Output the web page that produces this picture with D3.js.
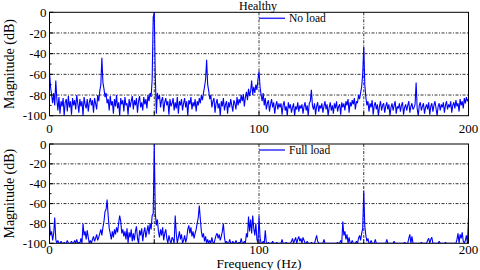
<!DOCTYPE html>
<html>
<head>
<meta charset="utf-8">
<script src="https://cdn.jsdelivr.net/npm/d3@7/dist/d3.min.js"></script>
<style>
  html, body { margin: 0; padding: 0; background: #fff; }
  svg { display: block; }
  .tick-label { font-family: "Liberation Serif", "Times New Roman", serif; font-size: 13px; fill: #000; }
  .axis-title { font-family: "Liberation Serif", "Times New Roman", serif; font-size: 14px; fill: #000; }
  .legend-text { font-family: "Liberation Serif", "Times New Roman", serif; font-size: 11.5px; fill: #000; }
</style>
</head>
<body>
<svg id="chart" width="480" height="270"></svg>
<script>
(function() {
  'use strict';

  // Spectrum sampled every 0.5 Hz from 0 to 200 Hz (401 values each)
  const freqStep = 0.5;
  const xTicks = [0, 100, 200];
  const xGrid = [50, 100, 150];
  const yTicks = [0, -20, -40, -60, -80, -100];
  const yGrid = [-20, -40, -60, -80];

  const noLoad = [
    -58,-72,-80,-88,-78,-90,-66,-84,-95,-82,-98,-86,-91,-83,-100,-87,-84,-96,-81,-92,
    -86,-99,-83,-90,-85,-94,-80,-88,-97,-84,-91,-86,-100,-82,-89,-93,-84,-96,-87,-83,
    -90,-85,-97,-83,-88,-94,-80,-86,-76,-70,-44,-68,-74,-82,-78,-88,-84,-95,-81,-90,
    -86,-98,-84,-91,-80,-93,-87,-100,-83,-89,-85,-96,-82,-90,-88,-99,-84,-92,-86,-81,
    -94,-85,-90,-83,-97,-86,-81,-92,-87,-95,-82,-89,-84,-93,-80,-86,-78,-82,-65,-5,
    0,-62,-98,-78,-84,-80,-92,-85,-82,-96,-87,-83,-90,-86,-99,-84,-91,-88,-83,-95,
    -87,-93,-82,-98,-86,-90,-84,-95,-88,-83,-92,-86,-100,-85,-89,-82,-94,-87,-91,-84,
    -96,-86,-90,-83,-88,-80,-85,-78,-72,-65,-46,-70,-76,-84,-80,-92,-86,-83,-97,-88,
    -84,-93,-88,-100,-86,-91,-83,-95,-89,-86,-98,-87,-92,-84,-90,-96,-85,-88,-94,-82,
    -90,-84,-88,-80,-86,-79,-91,-82,-77,-85,-74,-81,-76,-66,-80,-72,-78,-70,-75,-65,
    -57,-72,-80,-86,-78,-90,-83,-94,-88,-85,-96,-89,-84,-92,-87,-98,-90,-86,-94,-88,
    -92,-88,-99,-90,-86,-95,-91,-100,-87,-93,-89,-97,-92,-88,-100,-91,-94,-87,-96,-90,
    -93,-89,-98,-91,-87,-95,-90,-100,-88,-86,-75,-90,-94,-88,-99,-91,-87,-96,-90,-93,
    -88,-97,-91,-86,-94,-89,-100,-92,-87,-95,-90,-98,-88,-93,-86,-96,-91,-89,-99,-87,
    -92,-88,-95,-86,-90,-84,-97,-87,-91,-85,-89,-83,-94,-86,-88,-80,-84,-78,-72,-60,
    -33,-70,-82,-90,-86,-96,-88,-92,-85,-99,-90,-87,-94,-89,-100,-91,-86,-95,-90,-88,
    -97,-91,-87,-94,-89,-100,-92,-88,-95,-90,-86,-98,-91,-93,-88,-96,-90,-87,-99,-92,
    -89,-95,-90,-86,-97,-91,-88,-94,-92,-89,-68,-93,-100,-90,-87,-95,-91,-88,-98,-92,
    -89,-94,-87,-99,-91,-88,-96,-90,-86,-93,-100,-91,-88,-95,-89,-92,-87,-97,-90,-86,
    -94,-89,-92,-86,-97,-90,-87,-93,-85,-91,-88,-96,-84,-90,-86,-93,-83,-88,-82,-86,
    -84
  ];

  const fullLoad = [
    -80,-92,-88,-97,-90,-74,-96,-100,-97,-100,-100,-98,-100,-100,-99,-100,-100,-97,-100,-100,
    -100,-98,-100,-100,-97,-100,-96,-100,-99,-100,-95,-100,-80,-92,-88,-96,-87,-94,-100,-97,
    -100,-96,-93,-98,-95,-91,-97,-94,-90,-86,-92,-84,-78,-68,-66,-56,-72,-85,-90,-96,
    -88,-94,-86,-91,-84,-89,-80,-72,-78,-90,-86,-93,-88,-96,-85,-100,-89,-94,-86,-98,
    -90,-97,-88,-83,-95,-100,-87,-92,-85,-98,-89,-84,-94,-88,-82,-91,-80,-86,-72,-70,
    0,-70,-82,-76,-88,-94,-86,-92,-84,-97,-90,-86,-95,-100,-92,-97,-100,-94,-96,-100,
    -72,-90,-100,-94,-88,-96,-91,-100,-97,-92,-99,-95,-86,-82,-90,-84,-93,-88,-95,-90,
    -86,-80,-74,-62,-76,-88,-94,-90,-98,-93,-100,-96,-100,-97,-100,-94,-99,-100,-96,-92,
    -90,-95,-91,-97,-93,-88,-80,-94,-100,-98,-100,-100,-96,-100,-100,-98,-100,-100,-97,-100,
    -100,-99,-100,-95,-100,-100,-98,-100,-90,-94,-73,-88,-76,-90,-72,-85,-92,-80,-96,-100,
    -73,-94,-100,-100,-98,-100,-87,-100,-100,-99,-100,-100,-100,-98,-100,-100,-100,-99,-100,-100,
    -100,-100,-96,-100,-100,-100,-99,-100,-100,-100,-100,-98,-95,-100,-97,-94,-100,-96,-93,-98,
    -95,-100,-94,-97,-100,-100,-98,-100,-100,-100,-99,-100,-100,-100,-96,-92,-98,-100,-100,-100,
    -100,-100,-96,-100,-100,-100,-100,-100,-100,-100,-100,-100,-100,-100,-100,-99,-100,-100,-97,-100,
    -78,-92,-88,-96,-91,-100,-94,-100,-100,-97,-100,-100,-100,-98,-100,-95,-92,-97,-90,-85,
    -47,-83,-92,-98,-95,-100,-100,-97,-100,-100,-100,-96,-100,-100,-100,-100,-100,-100,-100,-100,
    -100,-100,-96,-100,-100,-100,-100,-100,-100,-98,-100,-100,-100,-100,-100,-100,-100,-100,-100,-99,
    -100,-100,-100,-95,-91,-100,-93,-100,-100,-100,-100,-100,-100,-100,-100,-99,-100,-100,-100,-100,
    -100,-97,-95,-100,-96,-94,-100,-100,-100,-100,-100,-100,-98,-100,-100,-100,-100,-100,-99,-100,
    -100,-100,-100,-100,-100,-100,-100,-100,-100,-96,-90,-100,-91,-95,-89,-98,-100,-97,-92,-100,
    -74
  ];

  const panels = [
    { values: noLoad, legend: 'No load', title: 'Healthy', top: 12.3, bottom: 115.7, labelGap: 17 },
    { values: fullLoad, legend: 'Full load', title: null, top: 144, bottom: 243.3, labelGap: 10.5 }
  ];

  const svg = d3.select('#chart');
  const left = 49.5;
  const right = 468.5;

  const x = d3.scaleLinear().domain([0, 200]).range([left, right]);

  panels.forEach((panel, pi) => {
    const y = d3.scaleLinear().domain([-100, 0]).range([panel.bottom, panel.top]);
    const g = svg.append('g');

    const clipId = 'clip-' + pi;
    svg.append('defs').append('clipPath').attr('id', clipId)
      .append('rect')
      .attr('x', left).attr('y', panel.top - 1)
      .attr('width', right - left).attr('height', panel.bottom - panel.top + 1);

    // Grid lines (dash-dot)
    g.selectAll('.hgrid').data(yGrid).enter().append('line')
      .attr('x1', left).attr('x2', right)
      .attr('y1', d => y(d)).attr('y2', d => y(d))
      .attr('stroke', '#000').attr('stroke-width', 0.8)
      .attr('stroke-dasharray', '3,1.5,1,1.5');
    g.selectAll('.vgrid').data(xGrid).enter().append('line')
      .attr('x1', d => x(d)).attr('x2', d => x(d))
      .attr('y1', panel.top).attr('y2', panel.bottom)
      .attr('stroke', '#000').attr('stroke-width', 0.8)
      .attr('stroke-dasharray', '3,1.5,1,1.5');

    // Spectrum line
    const line = d3.line()
      .x((d, i) => x(i * freqStep))
      .y(d => y(d));
    g.append('path')
      .datum(panel.values)
      .attr('d', line)
      .attr('fill', 'none')
      .attr('stroke', '#0000ff')
      .attr('stroke-width', 1.1)
      .attr('stroke-linejoin', 'bevel')
      .attr('clip-path', `url(#${clipId})`);

    // Frame
    g.append('rect')
      .attr('x', left).attr('y', panel.top)
      .attr('width', right - left).attr('height', panel.bottom - panel.top)
      .attr('fill', 'none').attr('stroke', '#000').attr('stroke-width', 1);

    // Y ticks (inward) and labels
    const yMinor = d3.range(-90, 0, 20);
    g.selectAll('.ytick').data(yTicks).enter().append('line')
      .attr('x1', left).attr('x2', left + 4)
      .attr('y1', d => y(d)).attr('y2', d => y(d))
      .attr('stroke', '#000');
    g.selectAll('.yminor').data(yMinor).enter().append('line')
      .attr('x1', left).attr('x2', left + 2)
      .attr('y1', d => y(d)).attr('y2', d => y(d))
      .attr('stroke', '#000');
    g.selectAll('.ylabel').data(yTicks).enter().append('text')
      .attr('class', 'tick-label')
      .attr('x', left - 3)
      .attr('y', d => y(d))
      .attr('dy', '0.35em')
      .attr('text-anchor', 'end')
      .text(d => d);

    // X ticks and labels
    g.selectAll('.xtick').data(xGrid).enter().append('line')
      .attr('x1', d => x(d)).attr('x2', d => x(d))
      .attr('y1', panel.bottom).attr('y2', panel.bottom - 4)
      .attr('stroke', '#000');
    g.selectAll('.xlabel').data(xTicks).enter().append('text')
      .attr('class', 'tick-label')
      .attr('x', d => x(d))
      .attr('y', panel.bottom + panel.labelGap)
      .attr('text-anchor', 'middle')
      .text(d => d);

    // Y axis title
    const midY = (panel.top + panel.bottom) / 2;
    g.append('text')
      .attr('class', 'axis-title')
      .attr('transform', `translate(14,${midY}) rotate(-90)`)
      .attr('text-anchor', 'middle')
      .text('Magnitude (dB)');

    // Legend
    g.append('line')
      .attr('x1', 259).attr('x2', 285)
      .attr('y1', panel.top + 6).attr('y2', panel.top + 6)
      .attr('stroke', '#3333ff').attr('stroke-width', 1.5);
    g.append('text')
      .attr('class', 'legend-text')
      .attr('x', 289)
      .attr('y', panel.top + 10)
      .text(panel.legend);

    if (panel.title) {
      svg.append('text')
        .attr('class', 'legend-text')
        .style('font-size', '12px')
        .attr('x', 258)
        .attr('y', 10)
        .attr('text-anchor', 'middle')
        .text(panel.title);
    }
  });

  svg.append('text')
    .attr('class', 'axis-title')
    .style('font-size', '13.5px')
    .attr('x', 259)
    .attr('y', 268)
    .attr('text-anchor', 'middle')
    .text('Frequency (Hz)');
})();
</script>
</body>
</html>
